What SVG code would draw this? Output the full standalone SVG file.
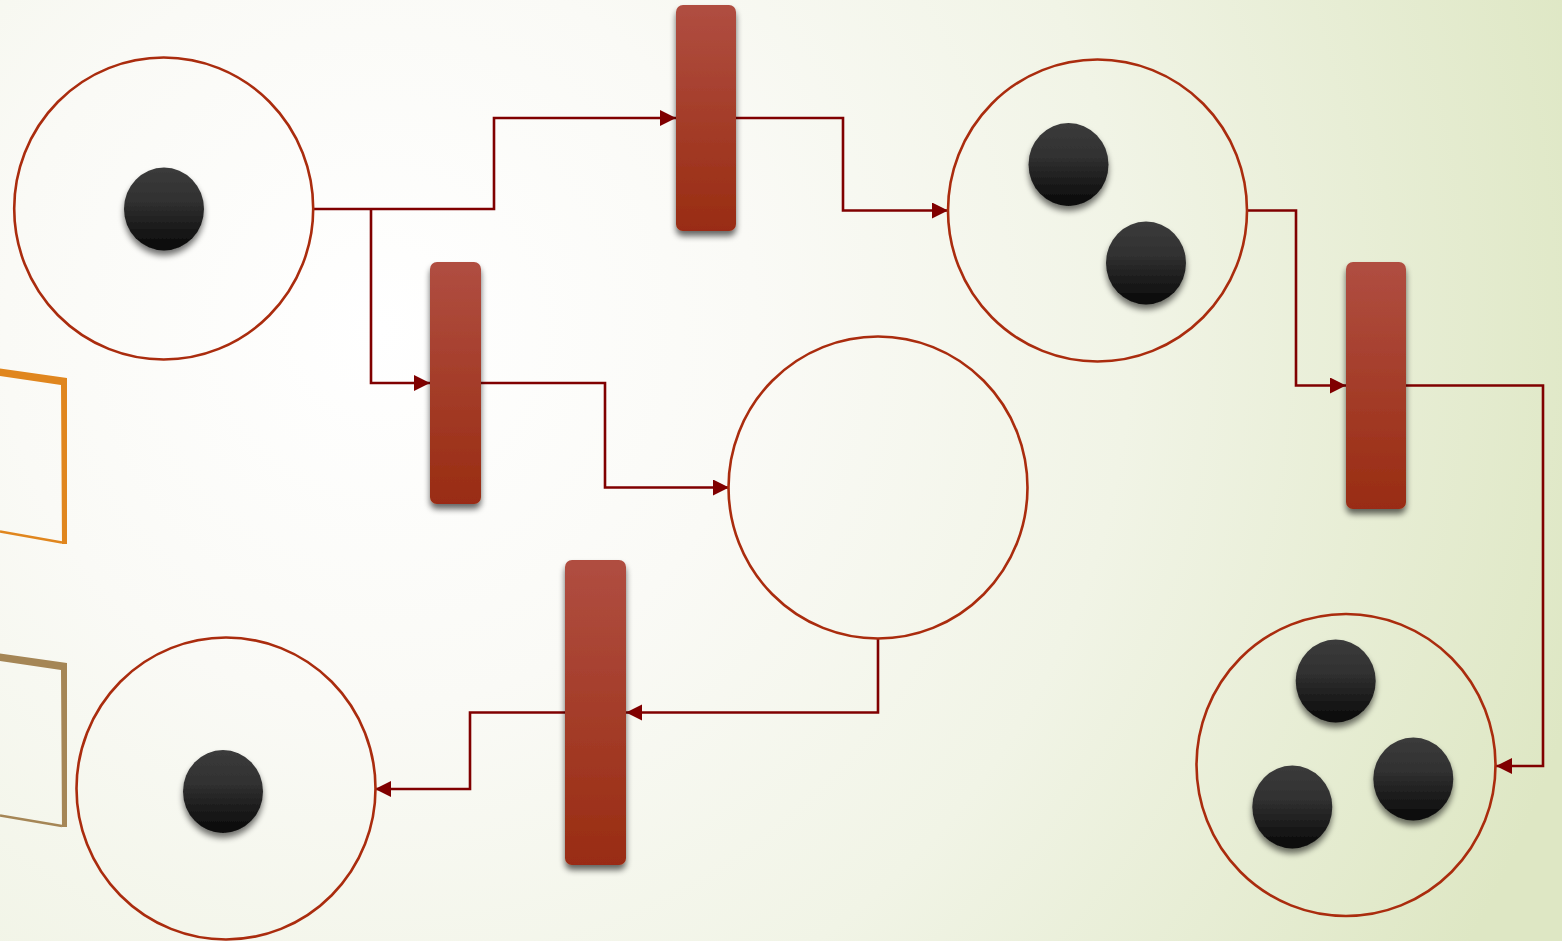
<svg xmlns="http://www.w3.org/2000/svg" width="1562" height="941" viewBox="0 0 1562 941">
  <defs>
    <radialGradient id="bg" gradientUnits="userSpaceOnUse" cx="380" cy="330" r="1250">
      <stop offset="0" stop-color="#ffffff"/>
      <stop offset="0.3" stop-color="#fafaf6"/>
      <stop offset="0.6" stop-color="#f1f4e6"/>
      <stop offset="1" stop-color="#dee7c4"/>
    </radialGradient>
    <linearGradient id="trans" x1="0" y1="0" x2="0" y2="1">
      <stop offset="0" stop-color="#b04e41"/>
      <stop offset="1" stop-color="#992c12"/>
    </linearGradient>
    <linearGradient id="tok" x1="0" y1="0" x2="0" y2="1">
      <stop offset="0" stop-color="#3b3b3b"/>
      <stop offset="0.4" stop-color="#313131"/>
      <stop offset="1" stop-color="#080808"/>
    </linearGradient>
    <filter id="shT" x="-40%" y="-10%" width="180%" height="125%">
      <feGaussianBlur in="SourceAlpha" stdDeviation="3"/>
      <feOffset dy="5" result="b"/>
      <feComponentTransfer><feFuncA type="linear" slope="0.6"/></feComponentTransfer>
      <feMerge><feMergeNode/><feMergeNode in="SourceGraphic"/></feMerge>
    </filter>
    <filter id="shK" x="-30%" y="-30%" width="160%" height="170%">
      <feGaussianBlur in="SourceAlpha" stdDeviation="3"/>
      <feOffset dy="5"/>
      <feComponentTransfer><feFuncA type="linear" slope="0.55"/></feComponentTransfer>
      <feMerge><feMergeNode/><feMergeNode in="SourceGraphic"/></feMerge>
    </filter>
    <marker id="arr" markerUnits="userSpaceOnUse" markerWidth="17" markerHeight="17" refX="16" refY="8" orient="auto">
      <path d="M0,0 L16,8 L0,16 z" fill="#800000"/>
    </marker>
    <style>
      .place { fill: none; stroke: #aa2c0e; stroke-width: 2.6; }
      .trans { fill: url(#trans); filter: url(#shT); }
      .tok { fill: url(#tok); filter: url(#shK); }
      .conn { fill: none; stroke: #800000; stroke-width: 2.6; marker-end: url(#arr); }
    </style>
  </defs>

  <rect x="0" y="0" width="1562" height="941" fill="url(#bg)"/>

  <g id="frame-orange">
    <polygon points="0,368.5 67,378 67,544 62,544 61,385 0,376" fill="#e0861e"/>
    <line x1="0" y1="531.5" x2="62" y2="542.5" stroke="#e0861e" stroke-width="2.5"/>
  </g>
  <g id="frame-brown">
    <polygon points="0,653.5 67,663 67,827 62,827 61,670 0,661" fill="#a58656"/>
    <line x1="0" y1="815.5" x2="62" y2="826" stroke="#a58656" stroke-width="2.5"/>
  </g>

  <g id="connectors">
    <path class="conn" d="M313,209 H494 V118 H676"/>
    <path class="conn" d="M371,209 V383 H430"/>
    <path class="conn" d="M481,383 H605 V487.5 H729"/>
    <path class="conn" d="M736,118 H843 V210.5 H948"/>
    <path class="conn" d="M1246,210.5 H1296 V385.5 H1346"/>
    <path class="conn" d="M1406,385.5 H1543 V766 H1496"/>
    <path class="conn" d="M878,639 V712.5 H626"/>
    <path class="conn" d="M565,712.5 H470 V789 H375"/>
  </g>

  <g id="P1">
    <ellipse class="place" cx="163.7" cy="208.5" rx="149.5" ry="151"/>
    <ellipse class="tok" cx="164" cy="209" rx="40" ry="41.5"/>
  </g>
  <g id="P2">
    <ellipse class="place" cx="1097.5" cy="210.5" rx="149.5" ry="151"/>
    <ellipse class="tok" cx="1068.5" cy="164.5" rx="40" ry="41.5"/>
    <ellipse class="tok" cx="1146" cy="263" rx="40" ry="41.5"/>
  </g>
  <g id="P3">
    <ellipse class="place" cx="878" cy="487.5" rx="149.5" ry="151"/>
  </g>
  <g id="P4">
    <ellipse class="place" cx="226" cy="788.5" rx="149.5" ry="151"/>
    <ellipse class="tok" cx="223" cy="791.5" rx="40" ry="41.5"/>
  </g>
  <g id="P5">
    <ellipse class="place" cx="1346" cy="765" rx="149.5" ry="151"/>
    <ellipse class="tok" cx="1335.7" cy="681" rx="40" ry="41.5"/>
    <ellipse class="tok" cx="1413.3" cy="779" rx="40" ry="41.5"/>
    <ellipse class="tok" cx="1292.3" cy="807" rx="40" ry="41.5"/>
  </g>

  <g id="T1"><rect class="trans" x="676" y="5" width="60" height="226" rx="7"/></g>
  <g id="T2"><rect class="trans" x="430" y="262" width="51" height="242" rx="7"/></g>
  <g id="T3"><rect class="trans" x="565" y="560" width="61" height="305" rx="7"/></g>
  <g id="T4"><rect class="trans" x="1346" y="262" width="60" height="247" rx="7"/></g>
</svg>
